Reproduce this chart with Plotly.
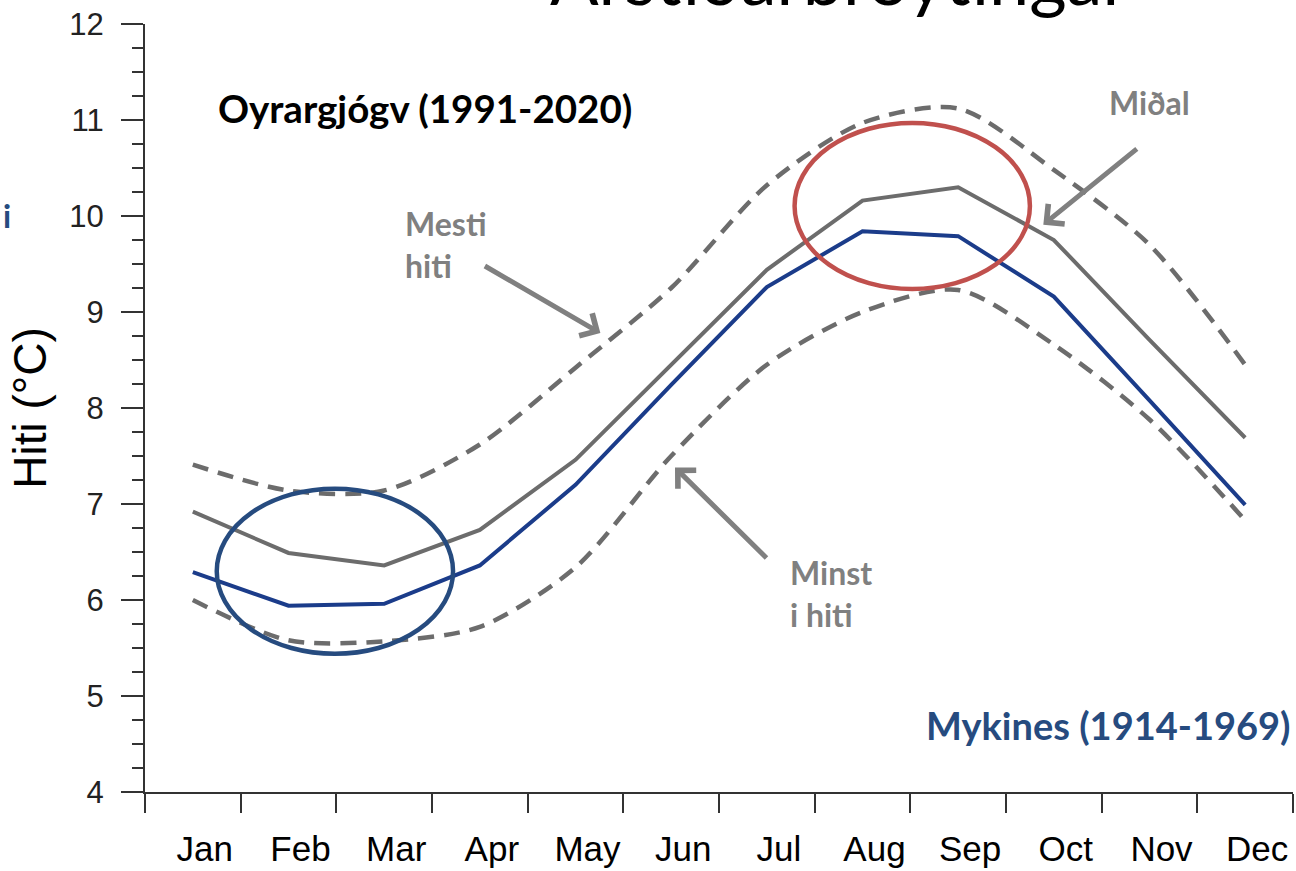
"""
Monthly mean temperature: Oyrargjógv (1991-2020) against Mykines (1914-1969)
"""
import plotly.graph_objects as go

# Month categories on the x axis
months = ['Jan', 'Feb', 'Mar', 'Apr', 'May', 'Jun',
          'Jul', 'Aug', 'Sep', 'Oct', 'Nov', 'Dec']

# Oyrargjógv 1991-2020 (grey): mean, highest and lowest monthly mean
oyrargjogv_mean = [6.92, 6.49, 6.36, 6.73, 7.46, 8.45, 9.44, 10.16, 10.30, 9.75, 8.71, 7.69]
oyrargjogv_max = [7.41, 7.14, 7.14, 7.62, 8.42, 9.25, 10.32, 10.97, 11.12, 10.48, 9.70, 8.45]
oyrargjogv_min = [6.00, 5.58, 5.57, 5.72, 6.34, 7.50, 8.45, 9.00, 9.23, 8.66, 7.88, 6.83]

# Mykines 1914-1969 (blue): mean
mykines_mean = [6.29, 5.94, 5.96, 6.36, 7.20, 8.24, 9.26, 9.84, 9.79, 9.16, 8.08, 6.99]

GREY = '#6c6c6c'
TEXT_GREY = '#808080'
NAVY = '#1b3c8a'
DARK_BLUE = '#264b7f'
RED = '#c0504d'
LABEL_FONT = 'Lato, Open Sans, sans-serif'
AXIS_FONT = 'Liberation Sans, Arial, sans-serif'


def add_lines(fig):
    """Add the two dashed bounds and the two mean lines."""
    dashed = dict(color=GREY, width=4.5, dash='16px,10px', shape='spline', smoothing=0.8)
    fig.add_trace(go.Scatter(x=months, y=oyrargjogv_max, mode='lines', name='Mesti hiti',
                             line=dashed))
    fig.add_trace(go.Scatter(x=months, y=oyrargjogv_min, mode='lines', name='Minst i hiti',
                             line=dashed))
    fig.add_trace(go.Scatter(x=months, y=oyrargjogv_mean, mode='lines', name='Oyrargjógv',
                             line=dict(color=GREY, width=4)))
    fig.add_trace(go.Scatter(x=months, y=mykines_mean, mode='lines', name='Mykines',
                             line=dict(color=NAVY, width=4)))


def add_notes(fig):
    """Ellipses, arrows and the text labels laid over the chart."""
    # circles around winter and late summer
    fig.add_shape(type='circle', xref='x', yref='y', x0=0.25, x1=2.72, y0=5.44, y1=7.16,
                  line=dict(color=DARK_BLUE, width=4.5))
    fig.add_shape(type='circle', xref='x', yref='y', x0=6.29, x1=8.75, y0=9.24, y1=10.97,
                  line=dict(color=RED, width=4.5))

    # arrows pointing at the lines
    arrow = dict(showarrow=True, arrowhead=4, arrowsize=1, arrowwidth=5,
                 arrowcolor=TEXT_GREY, text='', axref='pixel', ayref='pixel')
    fig.add_annotation(x=4.26, y=8.78, ax=-117, ay=-68, **arrow)
    fig.add_annotation(x=8.89, y=9.91, ax=95, ay=-77, **arrow)
    fig.add_annotation(x=5.04, y=7.38, ax=93, ay=92, **arrow)

    bold_grey = dict(family=LABEL_FONT, size=32, color=TEXT_GREY, weight='bold')
    fig.add_annotation(x=2.2, y=9.70, text='Mesti<br>hiti', showarrow=False, align='left',
                       xanchor='left', yanchor='middle', font=bold_grey)
    fig.add_annotation(x=9.56, y=11.18, text='Miðal', showarrow=False,
                       xanchor='left', yanchor='middle', font=bold_grey)
    fig.add_annotation(x=6.22, y=6.07, text='Minst<br>i hiti', showarrow=False, align='left',
                       xanchor='left', yanchor='middle', font=bold_grey)

    fig.add_annotation(x=0.24, y=11.13, text='Oyrargjógv (1991-2020)', showarrow=False,
                       xanchor='left', yanchor='middle',
                       font=dict(family=LABEL_FONT, size=38.5, color='black', weight='bold'))
    fig.add_annotation(x=1.0, xref='paper', y=4.70, text='Mykines (1914-1969)', showarrow=False,
                       xanchor='right', yanchor='middle',
                       font=dict(family=LABEL_FONT, size=38, color=DARK_BLUE, weight='bold'))

    # slide text cut off by the edges of the picture
    fig.add_annotation(x=-0.115, xref='paper', y=0.751, yref='paper', text='i', showarrow=False,
                       xanchor='right', yanchor='middle',
                       font=dict(family=LABEL_FONT, size=32, color=DARK_BLUE, weight='bold'))
    fig.add_annotation(x=0.605, xref='paper', y=1.003, yref='paper', text='Árstíðarbroytingar',
                       showarrow=False, xanchor='center', yanchor='bottom',
                       font=dict(family=LABEL_FONT, size=72, color='black'))


def main():
    fig = go.Figure()
    add_lines(fig)
    add_notes(fig)

    fig.update_layout(
        width=1296, height=871,
        margin=dict(l=145, r=3, t=24, b=79),
        paper_bgcolor='white', plot_bgcolor='white',
        showlegend=False,
    )
    fig.update_xaxes(
        type='category', range=[-0.5, 11.5], tickson='boundaries',
        ticks='outside', ticklen=19, tickwidth=2, tickcolor='#333333',
        showline=True, linecolor='#333333', linewidth=2, showgrid=False, zeroline=False,
        tickfont=dict(family=AXIS_FONT, size=35, color='black'),
        ticklabelshift=12, ticklabelstandoff=25,
    )
    fig.update_yaxes(
        range=[4, 12], dtick=1, ticks='outside', ticklen=22, tickwidth=2, tickcolor='#333333',
        minor=dict(dtick=0.25, ticks='outside', ticklen=11, tickwidth=2, tickcolor='#333333'),
        showline=True, linecolor='#333333', linewidth=2, showgrid=False, zeroline=False,
        tickfont=dict(family=AXIS_FONT, size=31, color='#222222'),
        ticklabelstandoff=11,
        title=dict(text='Hiti (°C)', standoff=8,
                   font=dict(family=AXIS_FONT, size=46, color='black')),
    )

    # the page's default body margin would push the figure 8px right and down
    fig.write_html('out.html', config={'displayModeBar': False},
                   post_script="document.body.style.margin = '0';")


main()
